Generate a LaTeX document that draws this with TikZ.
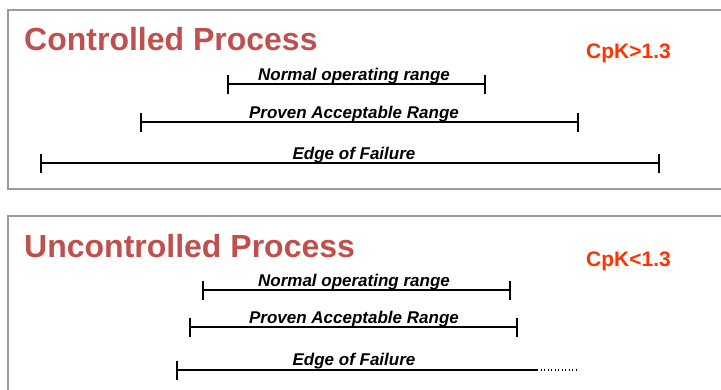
\documentclass[tikz,border=0pt]{standalone}
\usepackage{fontspec}
\setmainfont{Liberation Sans}
\usepackage{xcolor}
\usepackage{tikz}
\usetikzlibrary{arrows.meta}

\definecolor{titlered}{RGB}{192,80,77}
\definecolor{cpkred}{RGB}{255,51,0}
\definecolor{framegray}{RGB}{155,155,155}

\tikzset{
  panel/.style={draw=framegray, line width=1.3pt},
  heading/.style={anchor=base west, inner sep=0pt, text=titlered,
    font=\fontsize{32}{36}\selectfont\bfseries},
  cpk/.style={anchor=base west, inner sep=0pt, text=cpkred,
    font=\fontsize{21}{24}\selectfont\bfseries},
  rangebar/.style={line width=2pt, {Bar[width=19pt]}-{Bar[width=19pt]}},
  openbar/.style={line width=2pt, {Bar[width=19pt]}-},
  rangelab/.style={anchor=base, inner sep=0pt,
    font=\fontsize{17}{19}\selectfont\bfseries\itshape},
}

\begin{document}
\begin{tikzpicture}[x=1pt, y=-1pt]

\useasboundingbox (0,0) rectangle (721,389);
\clip (0,0) rectangle (721,389);

% Marcos de los dos paneles
\draw[panel] (8,10) rectangle (740,189);
\draw[panel] (8,216) rectangle (740,400);

% Panel superior
\node[heading] (ctitle) at (24,50) {Controlled Process};
\node[cpk] (ccpk) at (586,58) {CpK>1.3};

\coordinate (cnorL) at (227,84);
\coordinate (cnorR) at (486,84);
\coordinate (cparL) at (140,122);
\coordinate (cparR) at (579,122);
\coordinate (cedgeL) at (40,163);
\coordinate (cedgeR) at (660,163);

\draw[rangebar] (cnorL) -- (cnorR);
\draw[rangebar] (cparL) -- (cparR);
\draw[rangebar] (cedgeL) -- (cedgeR);

\node[rangelab] (cnorlab) at (354,80) {Normal operating range};
\node[rangelab] (cparlab) at (354,118) {Proven Acceptable Range};
\node[rangelab] (cedgelab) at (354,159) {Edge of Failure};

% Panel inferior
\node[heading] (utitle) at (24,257) {Uncontrolled Process};
\node[cpk] (ucpk) at (586,266) {CpK<1.3};

\coordinate (unorL) at (202,290);
\coordinate (unorR) at (511,290);
\coordinate (uparL) at (189,327);
\coordinate (uparR) at (518,327);
\coordinate (uedgeL) at (176,370);
\coordinate (uedgeR) at (537,370);
\coordinate (uedgeT) at (578,370);

\draw[rangebar] (unorL) -- (unorR);
\draw[rangebar] (uparL) -- (uparR);
\draw[openbar] (uedgeL) -- (uedgeR);
\draw[line width=1.6pt, dash pattern=on 1.3pt off 2.2pt] (uedgeR) -- (uedgeT);

\node[rangelab] (unorlab) at (354,286) {Normal operating range};
\node[rangelab] (uparlab) at (354,323) {Proven Acceptable Range};
\node[rangelab] (uedgelab) at (354,365) {Edge of Failure};

\end{tikzpicture}
\end{document}
